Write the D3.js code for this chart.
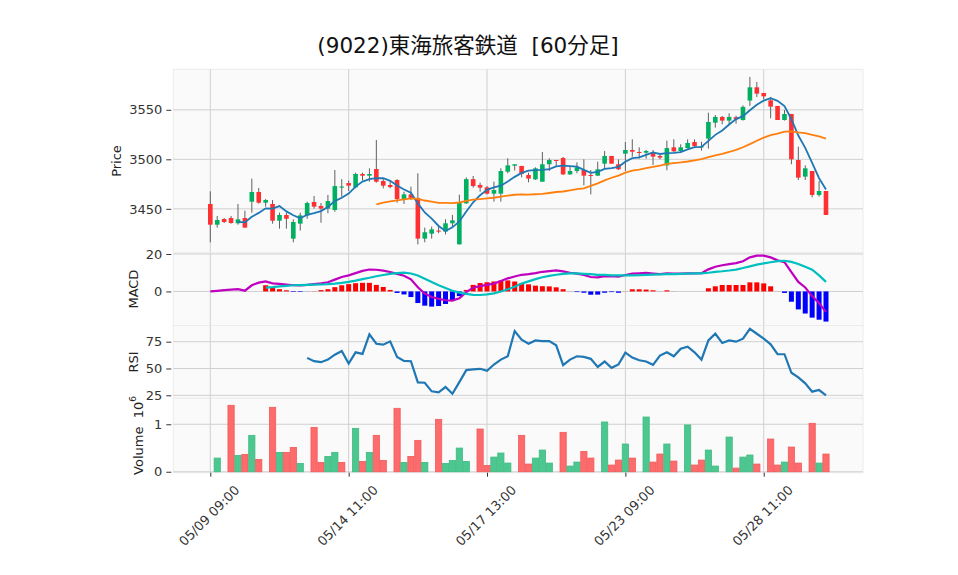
<!DOCTYPE html>
<html>
<head>
<meta charset="utf-8">
<script src="https://cdn.jsdelivr.net/npm/d3@7"></script>
<style>
body { margin: 0; background: #fff; }
text { font-family: "DejaVu Sans", sans-serif; white-space: pre; }
</style>
</head>
<body>
<div id="chart"></div>
<script>
// 60-minute bars, index 0 = 05/09 09:00
var tickIdx = [0, 20, 40, 60, 80];
var tickLabels = ["05/09 09:00", "05/14 11:00", "05/17 13:00", "05/23 09:00", "05/28 11:00"];

var opens = [3454.9,3434,3439.7,3440.7,3435.4,3440.7,3457.2,3467,3456.2,3454.9,
  3438,3443.8,3419.9,3435,3443.4,3456.9,3452.9,3450.2,3448.8,3471.4,
  3476,3471.7,3485.2,3483.5,3490.2,3478.1,3474.1,3479.1,3458.9,3464.6,
  3461,3419.9,3424.9,3428,3427,3435.4,3414.1,3455.6,3480,3474.1,
  3471.7,3465.3,3465.3,3487.5,3493.6,3493.3,3484.2,3479.8,3477.4,3495,
  3499.3,3501.3,3484.8,3488.2,3489.2,3484.2,3483.5,3495.6,3503.4,3495,
  3505.7,3509.4,3507.4,3506.7,3507.1,3503.4,3493.9,3512.1,3508.4,3511.4,
  3517.5,3512.1,3520.9,3537,3542.8,3539.1,3542.5,3539.7,3559.3,3572.7,
  3567,3559.6,3553.9,3539.7,3545.8,3499.3,3482.5,3488.2,3464,3468];
var highs = [3467.7,3442.8,3440.7,3442.8,3454.9,3448.1,3480.5,3471,3459.9,3458.9,
  3446.1,3446.1,3439.4,3446.1,3457.2,3463,3455.9,3464,3489.2,3480,
  3478.5,3486.5,3486.5,3490.9,3519.5,3480,3478.5,3480,3467.3,3472.4,
  3485.9,3431,3432,3432,3439.4,3443.8,3464.3,3481.8,3483.2,3476.4,
  3473,3477.4,3490.9,3501,3495,3493.3,3486.5,3491.9,3507.4,3501,
  3499.3,3502.4,3492.6,3497,3500,3489.2,3497.6,3508.4,3503.4,3500,
  3517.5,3520.2,3512.1,3509.4,3509.4,3504.4,3518.9,3520.2,3515.2,3520.2,
  3520.2,3517.8,3547.1,3544.8,3543.8,3546.5,3544,3554.5,3583.2,3578.1,
  3567,3563,3553.9,3549.8,3545.8,3512.8,3493.9,3488.2,3478.1,3468];
var lows = [3416.2,3431,3435.7,3435,3434,3431,3446.1,3455.2,3452.2,3435,
  3430,3430,3416.2,3428,3440,3450.2,3436,3445.5,3447.1,3462.3,
  3468,3470.7,3478.5,3477.4,3476.4,3470.7,3470.7,3456.2,3454.9,3458.9,
  3414.1,3416.2,3419.9,3425.3,3424.2,3432,3414.1,3454.9,3471.4,3467.3,
  3464.6,3457.2,3457.2,3485.9,3488.6,3481.8,3476.8,3479.1,3477.4,3488.2,
  3493.3,3484.2,3484.2,3485.9,3473.7,3464.6,3483.3,3490.9,3495.6,3489.2,
  3488.2,3502.7,3500.7,3500.7,3494.3,3500,3488.9,3507.4,3507.4,3510.8,
  3512.1,3508.8,3510.8,3532,3535.4,3535.4,3536,3539.1,3553.9,3563,
  3560.6,3541.4,3539.7,3539.1,3495,3479.1,3479.1,3461.6,3462.3,3443.8];
var closes = [3434,3438.7,3436.7,3435.7,3439.4,3431,3467,3456.2,3458.9,3438,
  3443.8,3440,3436.7,3443.4,3455.9,3452.2,3450.2,3457.9,3473,3472.5,
  3473.4,3485.2,3483.5,3485.2,3477.4,3473.4,3472,3459.9,3464.6,3461,
  3419.9,3426.3,3429.3,3427,3435.4,3438.4,3456.2,3480,3473,3471.4,
  3465.3,3469,3488.2,3493.9,3495,3485.2,3480.5,3490.9,3495,3499.3,
  3498.7,3484.8,3488.2,3491.9,3483.5,3483.3,3489.9,3503.4,3495.6,3489.9,
  3509.4,3507.7,3506.7,3508.4,3502.7,3501.7,3511.4,3508.1,3512.1,3516.5,
  3513.5,3513,3537.7,3542.8,3539.1,3542.8,3540.5,3552.9,3572.7,3566.3,
  3563.6,3553.2,3539.7,3545.8,3500,3481.5,3490.9,3464,3468,3443.8];
// volume in millions
var volume = [0,0.288,0,1.40,0.345,0.366,0.767,0.26,0,1.357,
  0.408,0.408,0.513,0.176,0,0.935,0.197,0.323,0.408,0.197,
  0,0.914,0.218,0.408,0.767,0.239,0,1.336,0.197,0.323,
  0.661,0.197,0,1.104,0.176,0.239,0.499,0.218,0,0.90,
  0.134,0.309,0.394,0.183,0,0.767,0.162,0.288,0.457,0.183,
  0,0.83,0.12,0.204,0.429,0.288,0,1.048,0.141,0.246,
  0.584,0.288,0,1.153,0.204,0.373,0.584,0.225,0,0.985,
  0.141,0.246,0.457,0.12,0,0.731,0.077,0.309,0.352,0.162,
  0,0.689,0.141,0.204,0.52,0.183,0,1.02,0.183,0.373];
var ma5 = [null,null,null,null,3436.9,3436.3,3442,3445.9,3450.5,3450.2,
  3452.8,3447.4,3443.5,3440.4,3444,3445.6,3447.7,3451.9,3457.8,3461.2,
  3465.4,3472.4,3477.5,3480,3480.9,3480.9,3478.3,3473.6,3469.5,3466.2,
  3455.5,3446.3,3440.2,3432.7,3427.6,3431.3,3437.3,3447.4,3456.6,3463.8,
  3469.2,3471.7,3473.4,3477.6,3482.3,3486.3,3488.6,3489.1,3489.3,3490.2,
  3492.9,3493.7,3493.2,3492.6,3489.4,3486.3,3487.4,3490.4,3491.1,3492.4,
  3497.6,3501.2,3501.9,3504.4,3507,3505.4,3506.2,3506.5,3507.2,3510,
  3512.3,3512.6,3518.6,3524.7,3529.2,3535.1,3540.6,3543.6,3549.6,3555,
  3559.2,3561.7,3559.1,3553.7,3540.5,3524,3511.6,3496.4,3480.9,3469.6];
var ma25 = [null,null,null,null,null,null,null,null,null,null,
  null,null,null,null,null,null,null,null,null,null,
  null,null,null,null,3454.6,3456.2,3457.5,3458.5,3459.6,3460.5,
  3460.0,3458.4,3457.3,3456.1,3456.0,3455.7,3456.4,3458.1,3459.3,3459.9,
  3460.5,3461.2,3462.4,3463.3,3464.2,3464.6,3464.4,3464.7,3465.1,3466.0,
  3467.0,3467.5,3468.7,3469.8,3470.7,3473.2,3475.7,3478.7,3481.4,3483.6,
  3486.5,3488.5,3489.6,3491.0,3492.3,3493.7,3495.4,3496.2,3496.9,3497.8,
  3498.9,3500.2,3502.1,3504.0,3505.6,3507.4,3509.6,3512.2,3515.4,3518.7,
  3521.9,3524.5,3525.9,3527.9,3528.3,3527.2,3526.5,3524.8,3523.2,3520.9];
var macd = [0,0.35,0.7,1.0,1.2,0.4,3.3,4.7,5.4,4.3,
  4.0,3.7,3.3,3.2,3.5,3.9,4.3,4.9,6.3,7.7,
  8.6,9.8,11.0,11.7,11.6,11.1,10.4,9.4,8.4,6.5,
  2.2,-1.1,-3.0,-4.0,-4.7,-4.9,-3.7,-0.4,2.0,2.8,
  3.5,4.2,5.6,7.0,8.0,8.9,9.3,9.8,10.5,10.9,
  11.2,10.7,10.0,9.5,8.8,7.7,7.5,8.1,8.2,7.9,
  8.8,9.5,9.7,9.9,9.6,9.3,9.6,9.5,9.5,9.6,
  9.6,9.8,11.8,13.2,14.0,14.6,15.1,16.1,18.2,19.1,
  19.1,18.2,16.6,15.6,10.3,5.1,2.1,-2.5,-6.3,-10.9];
var signal = [null,null,null,null,null,null,null,null,2.0,2.3,
  2.7,3.0,3.3,3.4,3.5,3.6,3.7,3.9,4.2,4.6,
  5.1,5.8,6.6,7.3,8.1,8.8,9.4,9.8,10.0,9.6,
  8.5,6.8,5.0,3.3,1.8,0.4,-0.6,-1.3,-1.8,-1.9,
  -1.6,-1.0,0.0,1.2,2.5,4.2,5.4,6.6,7.6,8.3,
  8.9,9.4,9.6,9.6,9.4,9.2,8.9,8.8,8.6,8.6,
  8.6,8.6,8.7,8.9,9.0,9.1,9.2,9.3,9.4,9.5,
  9.6,9.7,10.0,10.5,10.8,11.2,11.7,12.5,13.4,14.3,
  15.0,15.6,16.2,16.4,15.8,14.7,13.2,11.6,8.6,5.1];
var hist = [null,null,null,null,null,null,null,null,3.3,2.0,
  1.2,0.6,-0.3,-0.3,-0.05,0.1,0.7,1.2,2.3,3.3,
  3.9,4.4,4.6,4.6,3.5,2.4,0.8,-0.8,-1.6,-3.0,
  -6.2,-7.6,-8.1,-7.8,-6.7,-5.0,-2.5,0.8,3.5,4.5,
  4.9,5.3,5.8,5.9,5.3,4.3,3.8,3.1,2.8,2.7,
  2.2,1.2,0.05,-0.35,-0.7,-1.75,-1.7,-0.7,-0.35,-0.7,
  0.05,1.15,1.15,1.0,0.6,0.05,0.6,0.05,0,0,
  0,0,1.7,2.75,3.45,3.45,3.45,3.45,4.85,4.85,
  4.3,2.75,0.05,-0.8,-5.5,-9.6,-11.8,-14.0,-15.1,-16.1];
var rsi = [null,null,null,null,null,null,null,null,null,null,
  null,null,null,null,59.9,56.8,55.9,58.3,62.9,66.4,
  54.6,65.1,63.6,81.8,73.1,72.2,75.3,60.8,57.1,56.8,
  37.0,36.7,28.7,27.8,32.7,26.5,37.3,48.5,49.1,49.7,
  47.8,53.7,58.3,61.4,84.9,76.9,73.1,76.2,75.6,75.6,
  71.6,53.1,58.3,61.4,60.8,59.0,51.5,56.5,50.6,53.7,
  64.8,60.2,57.7,56.5,53.4,62.0,65.1,61.4,68.5,70.4,
  65.1,58.3,76.2,82.4,73.8,76.2,75.0,77.8,87.0,82.4,
  77.8,72.5,63.3,63.3,46.0,41.7,36.1,28.4,29.9,25.0];

var w = 958;
var h = 575;
var left = 173.3, right = 863;
var upColor = "#00b060", downColor = "#fe3032";
var volUp = "#4dc790", volDown = "#fd6b6c";

var svg = d3.select("#chart")
    .append("svg")
    .attr("width", w)
    .attr("height", h);

var xScale = d3.scaleLinear()
    .domain([-5.35, 94.35])
    .range([left, right]);
var step = xScale(1) - xScale(0);

var panels = [
    {key: "price", top: 69.3, bottom: 252.7, domain: [3405.7, 3590.9], ticks: [3450, 3500, 3550], label: "Price", labelX: 116},
    {key: "macd", top: 252.7, bottom: 325.5, domain: [-18.2, 20.7], ticks: [0, 20], label: "MACD", labelX: 133},
    {key: "rsi", top: 325.5, bottom: 398.3, domain: [22.2, 90.1], ticks: [25, 50, 75], label: "RSI", labelX: 133},
    {key: "vol", top: 398.3, bottom: 472.7, domain: [-0.02, 1.547], ticks: [0, 1], label: "Volume", labelX: 138}
];

panels.forEach(function(p) {
    p.y = d3.scaleLinear().domain(p.domain).range([p.bottom, p.top]);
    var g = svg.append("g").attr("class", p.key);
    p.g = g;
    g.append("rect")
        .attr("x", left)
        .attr("y", p.top)
        .attr("width", right - left)
        .attr("height", p.bottom - p.top)
        .attr("fill", "#fafafa")
        .attr("stroke", "#ececec")
        .attr("stroke-width", 1);
    // grid
    g.selectAll(".hgrid")
        .data(p.ticks)
        .enter()
        .append("line")
        .attr("x1", left).attr("x2", right)
        .attr("y1", function(d) { return p.y(d); })
        .attr("y2", function(d) { return p.y(d); })
        .attr("stroke", "#d0d0d0")
        .attr("stroke-width", 1);
    g.selectAll(".vgrid")
        .data(tickIdx)
        .enter()
        .append("line")
        .attr("x1", function(d) { return xScale(d); })
        .attr("x2", function(d) { return xScale(d); })
        .attr("y1", p.top).attr("y2", p.bottom)
        .attr("stroke", "#d0d0d0")
        .attr("stroke-width", 1);
    // y axis
    var axis = g.append("g")
        .attr("transform", "translate(" + (left - 2) + ",0)")
        .call(d3.axisLeft(p.y).tickValues(p.ticks).tickSize(5).tickPadding(4)
              .tickFormat(d3.format("d")));
    axis.select(".domain").remove();
    axis.selectAll(".tick line").attr("stroke", "#333");
    axis.selectAll(".tick text")
        .attr("font-size", 13)
        .attr("fill", "#333")
        .style("font-family", "DejaVu Sans");
});

var pr = panels[0], pm = panels[1], pi = panels[2], pv = panels[3];

// axis labels
function ylabel(p, txt, cy) {
    var t = svg.append("text")
        .attr("transform", "translate(" + p.labelX + "," + cy + ") rotate(-90)")
        .attr("text-anchor", "middle")
        .attr("dominant-baseline", "central")
        .attr("font-size", 13)
        .attr("fill", "#222")
        .text(txt);
    return t;
}
ylabel(pr, "Price", (pr.top + pr.bottom) / 2);
ylabel(pm, "MACD", (pm.top + pm.bottom) / 2);
ylabel(pi, "RSI", (pi.top + pi.bottom) / 2);
var vl = ylabel(pv, "Volume\u00a0\u00a010", (pv.top + pv.bottom) / 2);
vl.append("tspan").attr("dy", -5).attr("font-size", 9).text("6");

// candles
var idx = d3.range(closes.length);
var bodyW = 4.6;
pr.g.selectAll(".wick")
    .data(idx)
    .enter()
    .append("line")
    .attr("x1", function(i) { return xScale(i); })
    .attr("x2", function(i) { return xScale(i); })
    .attr("y1", function(i) { return pr.y(highs[i]); })
    .attr("y2", function(i) { return pr.y(lows[i]); })
    .attr("stroke", "#606060")
    .attr("stroke-width", 1);
pr.g.selectAll(".body")
    .data(idx)
    .enter()
    .append("rect")
    .attr("x", function(i) { return xScale(i) - bodyW / 2; })
    .attr("y", function(i) { return pr.y(Math.max(opens[i], closes[i])); })
    .attr("width", bodyW)
    .attr("height", function(i) { return Math.max(1, Math.abs(pr.y(opens[i]) - pr.y(closes[i]))); })
    .attr("fill", function(i) { return closes[i] >= opens[i] ? upColor : downColor; });

function lineOf(p, arr) {
    return d3.line()
        .defined(function(i) { return arr[i] !== null; })
        .x(function(i) { return xScale(i); })
        .y(function(i) { return p.y(arr[i]); })(idx);
}
pr.g.append("path").attr("d", lineOf(pr, ma5))
    .attr("fill", "none").attr("stroke", "#1f77b4").attr("stroke-width", 1.8);
pr.g.append("path").attr("d", lineOf(pr, ma25))
    .attr("fill", "none").attr("stroke", "#ff7f0e").attr("stroke-width", 1.8);

// MACD
var histW = 5;
pm.g.selectAll(".hist")
    .data(idx.filter(function(i) { return hist[i] !== null; }))
    .enter()
    .append("rect")
    .attr("x", function(i) { return xScale(i) - histW / 2; })
    .attr("y", function(i) { return pm.y(Math.max(0, hist[i])); })
    .attr("width", histW)
    .attr("height", function(i) { return Math.abs(pm.y(hist[i]) - pm.y(0)); })
    .attr("fill", function(i) { return hist[i] >= 0 ? "#ff0000" : "#0000ff"; });
pm.g.append("path").attr("d", lineOf(pm, macd))
    .attr("fill", "none").attr("stroke", "#bf00bf").attr("stroke-width", 2.2);
pm.g.append("path").attr("d", lineOf(pm, signal))
    .attr("fill", "none").attr("stroke", "#00bfbf").attr("stroke-width", 2.2);

// RSI
pi.g.append("path").attr("d", lineOf(pi, rsi))
    .attr("fill", "none").attr("stroke", "#1f77b4").attr("stroke-width", 2.2);

// Volume, coloured by close against previous close
var volW = step * 0.9;
pv.g.selectAll(".vol")
    .data(idx.filter(function(i) { return volume[i] > 0; }))
    .enter()
    .append("rect")
    .attr("x", function(i) { return xScale(i) - volW / 2; })
    .attr("y", function(i) { return pv.y(volume[i]); })
    .attr("width", volW)
    .attr("height", function(i) { return pv.y(0) - pv.y(volume[i]); })
    .attr("fill", function(i) { return (i > 0 && closes[i] < closes[i - 1]) ? volDown : volUp; })
    .attr("stroke", function(i) { return (i > 0 && closes[i] < closes[i - 1]) ? "#f25a5b" : "#3dbb82"; })
    .attr("stroke-width", 0.8);

// x axis, labels centred under the tick and turned 45 degrees
var xa = svg.append("g")
    .attr("transform", "translate(0," + pv.bottom + ")")
    .call(d3.axisBottom(xScale).tickValues(tickIdx).tickSize(4)
          .tickFormat(function(d, i) { return tickLabels[i]; }));
xa.select(".domain").remove();
xa.selectAll(".tick line").attr("stroke", "#333");
xa.selectAll(".tick text")
    .attr("font-size", 13)
    .attr("fill", "#333")
    .style("font-family", "DejaVu Sans")
    .attr("text-anchor", "middle")
    .attr("dominant-baseline", "central")
    .attr("dy", 0)
    .attr("y", 0)
    .attr("transform", "translate(-1.5,43) rotate(-45)");

// title
svg.append("text")
    .attr("x", 468)
    .attr("y", 53)
    .attr("text-anchor", "middle")
    .attr("font-size", 21.5)
    .attr("fill", "#111")
    .style("font-family", "'DejaVu Sans', 'Noto Sans CJK JP', sans-serif")
    .text("(9022)東海旅客鉄道\u00a0\u00a0[60分足]");
</script>
</body>
</html>
